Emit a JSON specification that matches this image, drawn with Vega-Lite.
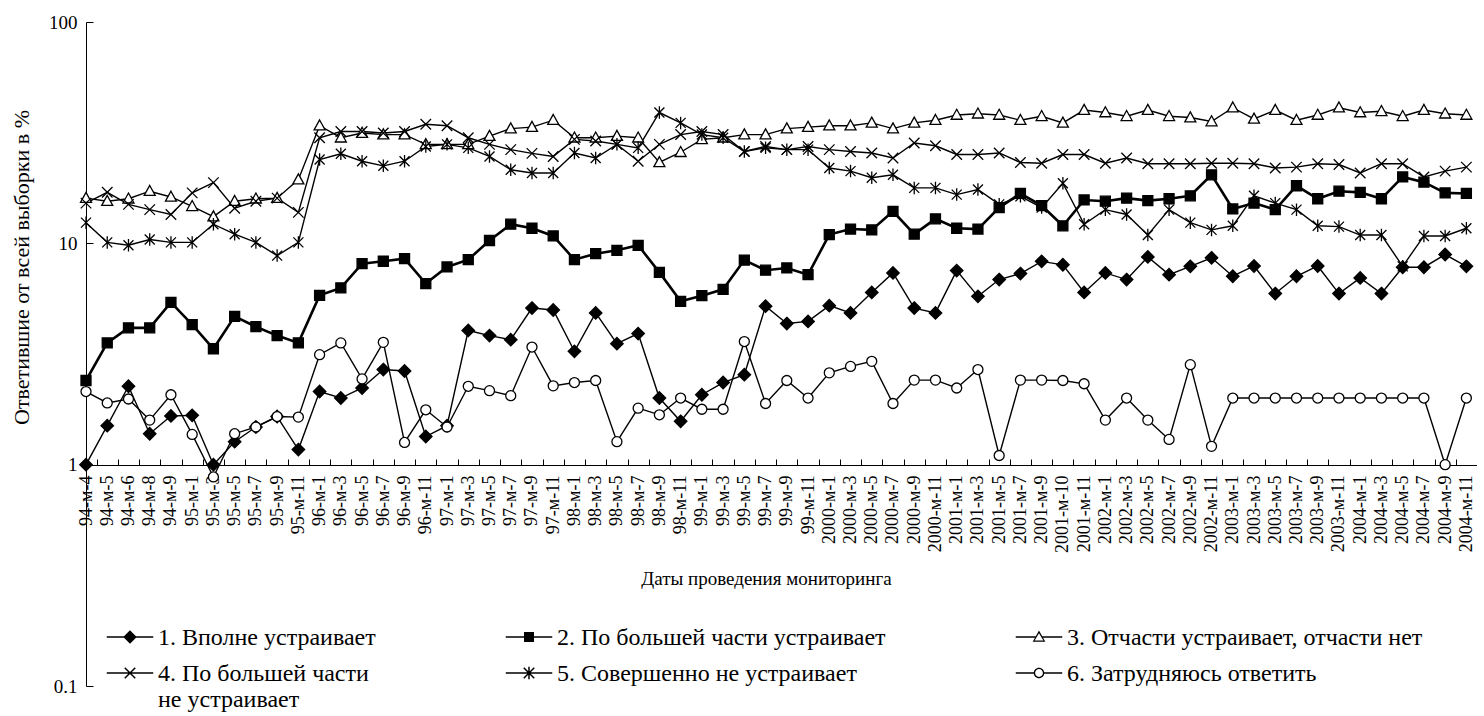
{
  "$schema": "https://vega.github.io/schema/vega-lite/v6.json",
  "autosize": {"type": "none"},
  "padding": {"left": 86, "top": 22, "right": 0, "bottom": 30},
  "width": 1391,
  "height": 664,
  "background": "white",
  "config": {
    "view": {"stroke": null},
    "font": "Liberation Serif",
    "axis": {"labelFont": "Liberation Serif", "titleFont": "Liberation Serif"},
    "legend": {"labelFont": "Liberation Serif"}
  },
  "data": {"values": [
    {"d":"94-м-4","s1":1.0,"s2":2.4,"s3":16.0,"s4":15.2,"s5":12.4,"s6":2.14},
    {"d":"94-м-5","s1":1.5,"s2":3.55,"s3":15.5,"s4":17.0,"s5":10.1,"s6":1.9},
    {"d":"94-м-6","s1":2.26,"s2":4.15,"s3":15.9,"s4":15.0,"s5":9.8,"s6":1.98},
    {"d":"94-м-8","s1":1.38,"s2":4.15,"s3":17.2,"s4":14.2,"s5":10.4,"s6":1.59},
    {"d":"94-м-9","s1":1.66,"s2":5.41,"s3":16.2,"s4":13.5,"s5":10.1,"s6":2.07},
    {"d":"95-м-1","s1":1.67,"s2":4.29,"s3":14.7,"s4":16.9,"s5":10.1,"s6":1.37},
    {"d":"95-м-3","s1":1.0,"s2":3.34,"s3":13.2,"s4":18.8,"s5":12.2,"s6":0.88},
    {"d":"95-м-5","s1":1.27,"s2":4.68,"s3":15.5,"s4":14.4,"s5":11.0,"s6":1.38},
    {"d":"95-м-7","s1":1.48,"s2":4.2,"s3":15.9,"s4":15.5,"s5":10.1,"s6":1.48},
    {"d":"95-м-9","s1":1.65,"s2":3.83,"s3":16.0,"s4":16.0,"s5":8.8,"s6":1.65},
    {"d":"95-м-11","s1":1.17,"s2":3.55,"s3":19.4,"s4":13.8,"s5":10.1,"s6":1.64},
    {"d":"96-м-1","s1":2.14,"s2":5.82,"s3":34,"s4":30,"s5":23.9,"s6":3.14},
    {"d":"96-м-3","s1":2.0,"s2":6.29,"s3":30,"s4":32,"s5":25.4,"s6":3.55},
    {"d":"96-м-5","s1":2.22,"s2":8.09,"s3":31.5,"s4":32,"s5":23.5,"s6":2.44},
    {"d":"96-м-7","s1":2.69,"s2":8.3,"s3":31,"s4":31.5,"s5":22.4,"s6":3.57},
    {"d":"96-м-9","s1":2.65,"s2":8.53,"s3":31,"s4":32,"s5":23.5,"s6":1.26},
    {"d":"96-м-11","s1":1.34,"s2":6.58,"s3":28,"s4":34.5,"s5":27.4,"s6":1.77},
    {"d":"97-м-1","s1":1.5,"s2":7.82,"s3":28,"s4":34,"s5":28,"s6":1.48},
    {"d":"97-м-3","s1":4.04,"s2":8.44,"s3":28,"s4":30,"s5":27,"s6":2.26},
    {"d":"97-м-5","s1":3.83,"s2":10.3,"s3":30.5,"s4":28,"s5":24.7,"s6":2.16},
    {"d":"97-м-7","s1":3.67,"s2":12.2,"s3":33,"s4":26.5,"s5":21.5,"s6":2.05},
    {"d":"97-м-9","s1":5.1,"s2":11.7,"s3":33.5,"s4":25.5,"s5":20.8,"s6":3.4},
    {"d":"97-м-11","s1":5.0,"s2":10.8,"s3":36,"s4":24.7,"s5":20.8,"s6":2.27},
    {"d":"98-м-1","s1":3.25,"s2":8.44,"s3":30,"s4":29.5,"s5":25.6,"s6":2.35},
    {"d":"98-м-3","s1":4.85,"s2":8.98,"s3":30,"s4":29,"s5":24.3,"s6":2.4},
    {"d":"98-м-5","s1":3.52,"s2":9.3,"s3":30.5,"s4":28,"s5":28,"s6":1.27},
    {"d":"98-м-7","s1":3.91,"s2":9.8,"s3":30,"s4":23.5,"s5":27,"s6":1.8},
    {"d":"98-м-9","s1":2.0,"s2":7.39,"s3":23.2,"s4":28,"s5":39,"s6":1.68},
    {"d":"98-м-11","s1":1.57,"s2":5.47,"s3":25.8,"s4":31,"s5":35,"s6":2.0},
    {"d":"99-м-1","s1":2.07,"s2":5.8,"s3":29.5,"s4":32,"s5":31,"s6":1.78},
    {"d":"99-м-3","s1":2.35,"s2":6.2,"s3":30,"s4":31,"s5":30,"s6":1.78},
    {"d":"99-м-5","s1":2.55,"s2":8.4,"s3":31,"s4":26,"s5":26,"s6":3.6},
    {"d":"99-м-7","s1":5.2,"s2":7.56,"s3":31,"s4":27.4,"s5":27,"s6":1.89},
    {"d":"99-м-9","s1":4.34,"s2":7.74,"s3":33,"s4":26.5,"s5":26.5,"s6":2.4},
    {"d":"99-м-11","s1":4.44,"s2":7.22,"s3":33.5,"s4":27.4,"s5":26.5,"s6":2.0},
    {"d":"2000-м-1","s1":5.23,"s2":10.95,"s3":34,"s4":26.5,"s5":21.9,"s6":2.6},
    {"d":"2000-м-3","s1":4.85,"s2":11.6,"s3":34,"s4":26.0,"s5":21.2,"s6":2.78},
    {"d":"2000-м-5","s1":6.0,"s2":11.5,"s3":35,"s4":25.6,"s5":19.8,"s6":2.93},
    {"d":"2000-м-7","s1":7.35,"s2":13.95,"s3":33,"s4":24.3,"s5":20.4,"s6":1.89},
    {"d":"2000-м-9","s1":5.1,"s2":11.0,"s3":35,"s4":28.4,"s5":17.8,"s6":2.41},
    {"d":"2000-м-11","s1":4.85,"s2":12.9,"s3":36,"s4":27.6,"s5":17.8,"s6":2.41},
    {"d":"2001-м-1","s1":7.53,"s2":11.7,"s3":38,"s4":25.2,"s5":16.6,"s6":2.22},
    {"d":"2001-м-3","s1":5.76,"s2":11.6,"s3":38.5,"s4":25.2,"s5":17.5,"s6":2.69},
    {"d":"2001-м-5","s1":6.86,"s2":14.5,"s3":38,"s4":25.6,"s5":15.0,"s6":1.1},
    {"d":"2001-м-7","s1":7.3,"s2":16.8,"s3":36,"s4":23.2,"s5":16.3,"s6":2.41},
    {"d":"2001-м-9","s1":8.29,"s2":14.8,"s3":37.5,"s4":23.0,"s5":14.5,"s6":2.41},
    {"d":"2001-м-10","s1":8.0,"s2":12.0,"s3":35,"s4":25.2,"s5":18.7,"s6":2.4},
    {"d":"2001-м-11","s1":6.0,"s2":15.7,"s3":40,"s4":25.2,"s5":12.2,"s6":2.32},
    {"d":"2002-м-1","s1":7.35,"s2":15.5,"s3":39,"s4":23.0,"s5":14.2,"s6":1.59},
    {"d":"2002-м-3","s1":6.86,"s2":16.0,"s3":37.5,"s4":24.3,"s5":13.5,"s6":2.0},
    {"d":"2002-м-5","s1":8.68,"s2":15.6,"s3":40,"s4":22.9,"s5":10.9,"s6":1.59},
    {"d":"2002-м-7","s1":7.22,"s2":15.9,"s3":37.5,"s4":22.9,"s5":14.2,"s6":1.3},
    {"d":"2002-м-9","s1":7.87,"s2":16.4,"s3":37,"s4":22.9,"s5":12.4,"s6":2.83},
    {"d":"2002-м-11","s1":8.6,"s2":20.4,"s3":35.5,"s4":23.0,"s5":11.5,"s6":1.21},
    {"d":"2003-м-1","s1":7.1,"s2":14.3,"s3":41,"s4":23.0,"s5":12.0,"s6":2.0},
    {"d":"2003-м-3","s1":7.9,"s2":15.2,"s3":36.5,"s4":22.9,"s5":16.4,"s6":2.0},
    {"d":"2003-м-5","s1":5.93,"s2":14.2,"s3":40,"s4":21.9,"s5":15.2,"s6":2.0},
    {"d":"2003-м-7","s1":7.1,"s2":18.2,"s3":36,"s4":22.1,"s5":14.2,"s6":2.0},
    {"d":"2003-м-9","s1":7.9,"s2":15.9,"s3":38,"s4":22.9,"s5":12.0,"s6":2.0},
    {"d":"2003-м-11","s1":5.93,"s2":17.2,"s3":41,"s4":22.7,"s5":11.9,"s6":2.0},
    {"d":"2004-м-1","s1":6.98,"s2":17.0,"s3":39,"s4":20.8,"s5":10.9,"s6":2.0},
    {"d":"2004-м-3","s1":5.93,"s2":15.9,"s3":39.5,"s4":22.9,"s5":10.9,"s6":2.0},
    {"d":"2004-м-5","s1":7.8,"s2":19.95,"s3":37.5,"s4":22.9,"s5":7.87,"s6":2.0},
    {"d":"2004-м-7","s1":7.8,"s2":18.9,"s3":40,"s4":19.95,"s5":10.8,"s6":2.0},
    {"d":"2004-м-9","s1":8.9,"s2":16.9,"s3":38.5,"s4":21.2,"s5":10.8,"s6":1.0},
    {"d":"2004-м-11","s1":7.87,"s2":16.8,"s3":38,"s4":22.1,"s5":11.7,"s6":2.0}
  ]},
  "transform": [{"fold": ["s1","s2","s3","s4","s5","s6"], "as": ["s","v"]}],
  "encoding": {
    "x": {
      "field": "d", "type": "ordinal", "sort": null,
      "scale": {"type": "point", "padding": 0.25, "align": 0},
      "axis": {
        "orient": "bottom", "offset": -221, "labelAngle": -90, "labelOverlap": false,
        "labelFont": "Liberation Serif", "labelFontSize": 18, "labelColor": "black",
        "tickOffset": 10.6, "labelOffset": -10.6, "tickSize": -6, "labelPadding": 16,
        "tickColor": "black", "domainColor": "black", "grid": false,
        "title": "Даты проведения мониторинга", "titleFont": "Liberation Serif",
        "titleFontSize": 19, "titleFontWeight": "normal", "titleColor": "black",
        "titlePadding": 17, "titleX": 680
      }
    },
    "y": {
      "field": "v", "type": "quantitative",
      "scale": {"type": "log", "domain": [0.1, 100], "nice": false},
      "axis": {
        "values": [0.1, 1, 10, 100], "format": "~g", "grid": false,
        "labelFont": "Liberation Serif", "labelFontSize": 19, "labelColor": "black",
        "tickSize": -7, "labelPadding": 16, "tickColor": "black", "domainColor": "black",
        "title": "Ответившие от всей выборки в %", "titleFont": "Liberation Serif",
        "titleFontSize": 22, "titleFontWeight": "normal", "titleColor": "black",
        "titleX": -53, "titleY": 245
      }
    }
  },
  "layer": [
    {
      "mark": {"type": "line", "color": "black"},
      "encoding": {
        "detail": {"field": "s", "type": "nominal"},
        "strokeWidth": {"condition": {"test": "datum.s == 's2'", "value": 2.6}, "value": 1.4}
      }
    },
    {
      "mark": {"type": "point", "size": 100, "stroke": "black", "strokeWidth": 1.3, "opacity": 1},
      "encoding": {
        "shape": {
          "field": "s", "type": "nominal",
          "scale": {
            "domain": ["s1","s2","s3","s4","s5","s6"],
            "range": [
              "M0,-1.25L1.25,0L0,1.25L-1.25,0Z",
              "M-1,-1L1,-1L1,1L-1,1Z",
              "M0,-1.15L1.1,0.85L-1.1,0.85Z",
              "M-1.05,-1.05L1.05,1.05M-1.05,1.05L1.05,-1.05",
              "M-1,-1L1,1M-1,1L1,-1M0,-1.25L0,1.25",
              "circle"
            ]
          },
          "legend": null
        },
        "fill": {
          "field": "s", "type": "nominal",
          "scale": {"domain": ["s1","s2","s3","s4","s5","s6"], "range": ["black","black","white","white","white","white"]},
          "legend": null
        }
      }
    },
    {
      "mark": {"type": "point", "size": 100, "filled": true, "color": "black", "strokeWidth": 0, "opacity": 0},
      "encoding": {
        "shape": {
          "field": "s", "type": "nominal",
          "scale": {
            "domain": ["s1","s2","s3","s4","s5","s6"],
            "range": [
              "M-4.65,2.05H4.65V2.35H-4.65Z M0,0.85L1.35,2.2L0,3.55L-1.35,2.2Z",
              "M-4.65,2.05H4.65V2.35H-4.65Z M-1,1.2H1V3.2H-1Z",
              "M-4.65,2.05H-0.66V2.35H-4.65Z M0.66,2.05H4.65V2.35H0.66Z M0,0.91L1.26,3.13L-1.26,3.13Z M0,1.45L-0.87,2.92L0.87,2.92Z",
              "M-4.65,2.05H4.65V2.35H-4.65Z M-0.945,1.045L1.155,3.145L0.945,3.355L-1.155,1.255Z M-0.945,3.355L-1.155,3.145L0.945,1.045L1.155,1.255Z",
              "M-4.65,2.05H4.65V2.35H-4.65Z M-0.945,1.045L1.155,3.145L0.945,3.355L-1.155,1.255Z M-0.945,3.355L-1.155,3.145L0.945,1.045L1.155,1.255Z M-0.15,0.94H0.15V3.46H-0.15Z",
              "M-4.65,2.05H-0.99V2.35H-4.65Z M0.99,2.05H4.65V2.35H0.99Z M1.05,2.2A1.05,1.05,0,1,1,-1.05,2.2A1.05,1.05,0,1,1,1.05,2.2Z M0.78,2.2A0.78,0.78,0,1,0,-0.78,2.2A0.78,0.78,0,1,0,0.78,2.2Z"
            ]
          },
          "legend": {
            "orient": "none", "legendX": 32, "legendY": 592, "columns": 3, "direction": "horizontal",
            "columnPadding": 129, "rowPadding": 0, "title": null,
            "labelFont": "Liberation Serif", "labelFontSize": 24, "labelColor": "black",
            "labelBaseline": "top", "labelLimit": 800, "labelOffset": 16,
            "symbolSize": 100, "symbolFillColor": "black",
            "symbolStrokeWidth": 0, "symbolOpacity": 1,
            "labelExpr": "{'s1':'1. Вполне устраивает','s2':'2. По большей части устраивает          ','s3':'3. Отчасти устраивает, отчасти нет','s4':['4. По большей части','    не устраивает'],'s5':'5. Совершенно не устраивает','s6':'6. Затрудняюсь ответить'}[datum.value]"
          }
        }
      }
    }
  ],
  "resolve": {"scale": {"shape": "independent"}, "legend": {"shape": "independent"}}
}
